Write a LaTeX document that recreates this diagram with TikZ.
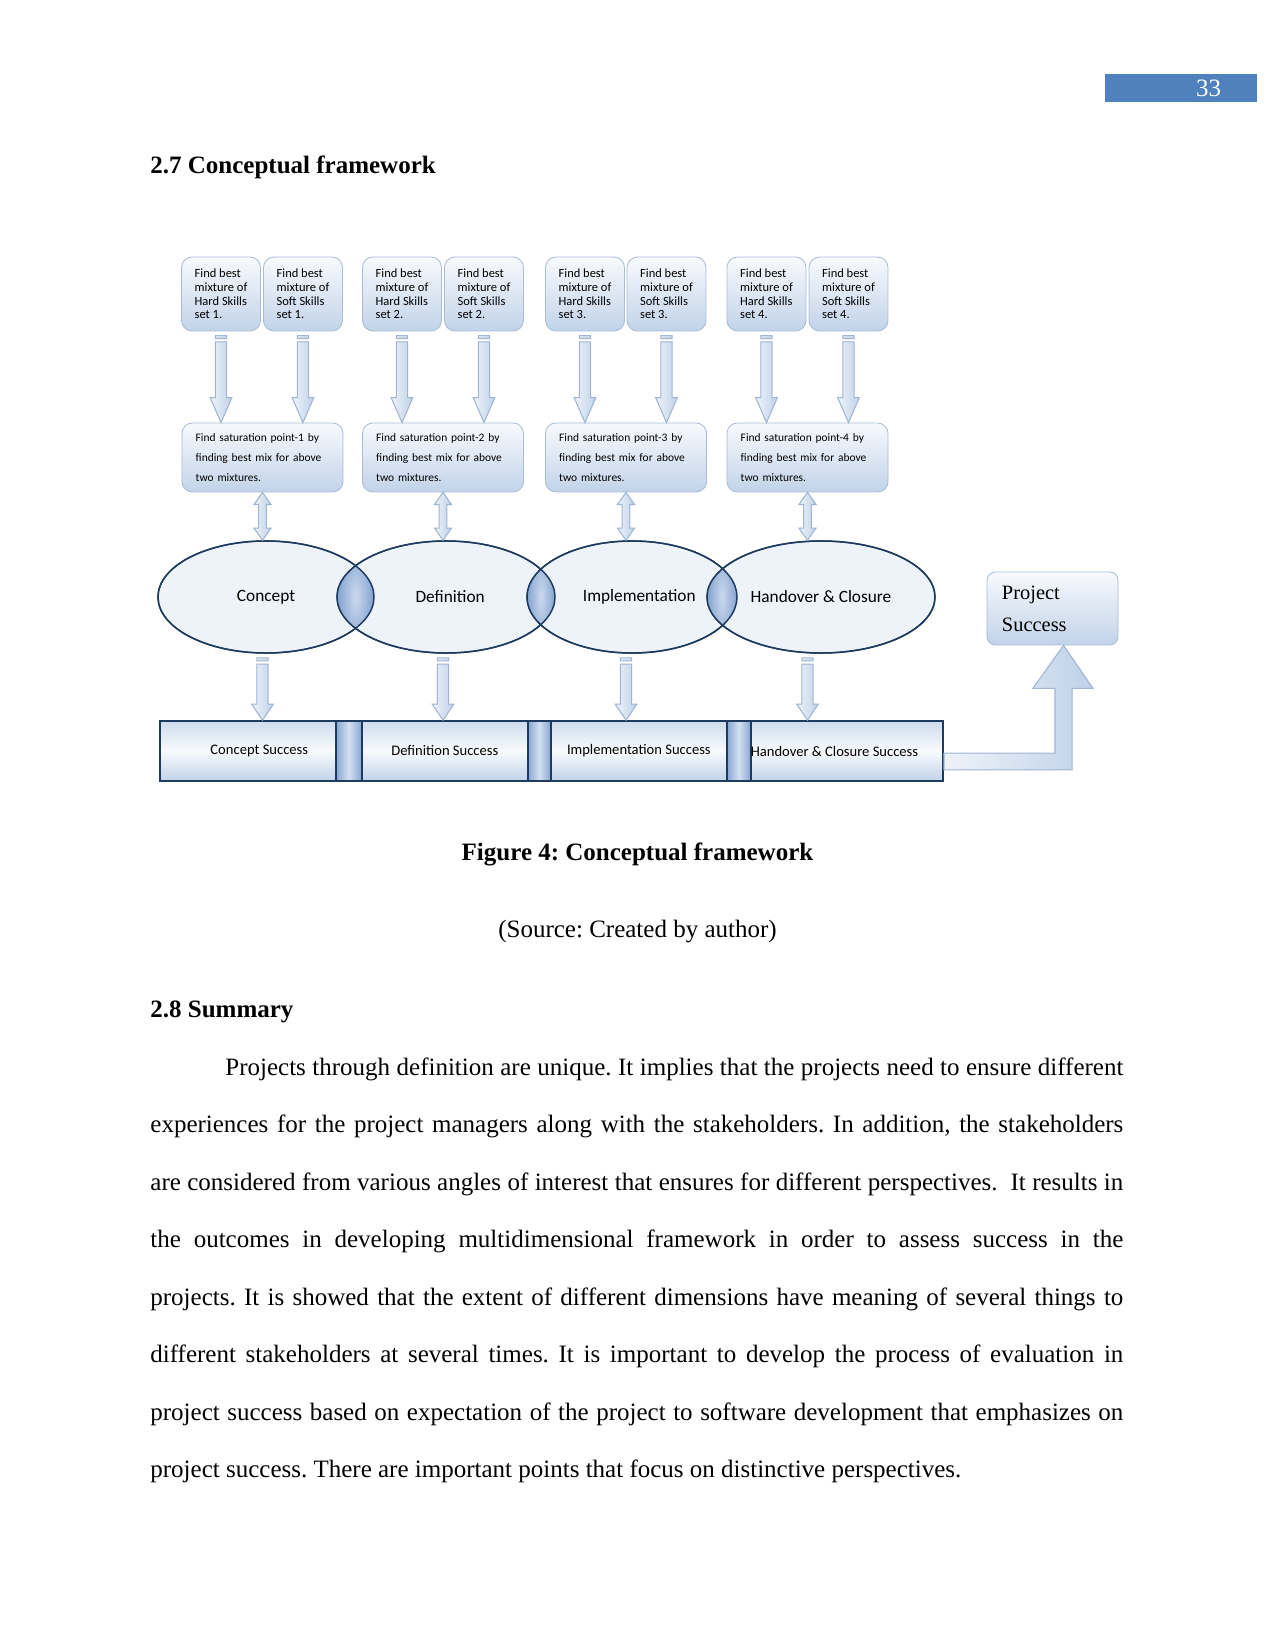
\documentclass[tikz,border=0pt]{standalone}
\usepackage{fontspec}
\setmainfont{Liberation Serif}
\newfontfamily\calibri{Carlito}
\usetikzlibrary{shapes.geometric,calc}
\frenchspacing

\definecolor{boxline}{HTML}{A9BCD6}
\definecolor{boxtop}{HTML}{F8FAFD}
\definecolor{boxbot}{HTML}{C2D3E9}
\definecolor{arrline}{HTML}{9FB5D3}
\definecolor{arrlight}{HTML}{EEF3F9}
\definecolor{arrblue}{HTML}{BFD1E8}
\definecolor{navy}{HTML}{1F3A5F}
\definecolor{phasein}{HTML}{EEF3FA}
\definecolor{phaseout}{HTML}{A3BBDC}
\definecolor{lensin}{HTML}{CBD9EE}
\definecolor{lensout}{HTML}{7F9FCC}
\definecolor{sepblue}{HTML}{86A5D2}
\definecolor{pageblue}{HTML}{4F81BD}

\pgfdeclareradialshading{phaseshade}{\pgfpoint{0bp}{0bp}}{color(0bp)=(phasein); color(32bp)=(phasein); color(47bp)=(phaseout); color(50bp)=(phaseout)}

\tikzset{
  skill/.style={draw=boxline,rounded corners=5pt,top color=boxtop,bottom color=boxbot,minimum width=37.9pt,minimum height=35.5pt,inner sep=0pt,align=left,font=\calibri\fontsize{6}{6.6}\selectfont},
  satbox/.style={draw=boxline,rounded corners=5pt,top color=boxtop,bottom color=boxbot,minimum height=33.1pt,text width=64.1pt,inner xsep=6.6pt,inner ysep=0pt,align=left,font=\calibri\fontsize{5.5}{9.6}\selectfont},
  phase/.style={ellipse,draw=navy,line width=0.7pt,shade,shading=phaseshade,minimum height=53.8pt,inner sep=0pt,font=\calibri\fontsize{8.3}{10}\selectfont},
  succ/.style={draw=navy,line width=0.8pt,top color=boxbot!80,bottom color=boxbot,middle color=boxtop,minimum height=28.8pt,inner sep=0pt,anchor=west,font=\calibri\fontsize{7}{8}\selectfont},
  divider/.style={draw=navy,line width=0.8pt,left color=sepblue,right color=sepblue,middle color=boxbot!70,minimum height=28.8pt,inner sep=0pt,anchor=west},
  goal/.style={draw=boxline,rounded corners=4pt,top color=boxtop,bottom color=boxbot,minimum height=35pt,text width=48.5pt,inner xsep=7.2pt,inner ysep=0pt,align=left,font=\fontsize{9.8}{15.4}\selectfont},
  blockarrow/.style={draw=arrline,line width=0.5pt,left color=arrlight,right color=arrblue},
  lens/.style={inner color=lensin,outer color=lensout},
  pagebox/.style={fill=pageblue,text=white,minimum height=13.4pt,text width=72.5pt,inner sep=0pt,align=right,font=\fontsize{12}{14}\selectfont},
  bodyline/.style={anchor=base west,inner sep=0pt,font=\fontsize{12}{14}\selectfont},
  caption/.style={anchor=base,inner sep=0pt,font=\fontsize{12}{14}\selectfont}
}

% #1 head length, #2 column node, #3 top node, #4 bottom node
\newcommand{\blockdown}[4][12pt]{%
  \path[blockarrow] let \p1=(#2), \p2=(#3), \p3=(#4) in
    (\x1-2.7pt,\y2-2pt) rectangle (\x1+2.7pt,\y2-3.4pt)
    (\x1-2.7pt,\y2-5pt) -- (\x1-2.7pt,\y3+#1) -- (\x1-5.2pt,\y3+#1) -- (\x1,\y3)
      -- (\x1+5.2pt,\y3+#1) -- (\x1+2.7pt,\y3+#1) -- (\x1+2.7pt,\y2-5pt) -- cycle;}
% up and down arrow, #1 column node, #2 top node, #3 bottom node
\newcommand{\blockboth}[3]{%
  \path[blockarrow] let \p1=(#1), \p2=(#2), \p3=(#3) in
    (\x1,\y2) -- (\x1+4.1pt,\y2-5.8pt) -- (\x1+1.9pt,\y2-5.8pt) -- (\x1+1.9pt,\y3+5.8pt)
      -- (\x1+4.1pt,\y3+5.8pt) -- (\x1,\y3) -- (\x1-4.1pt,\y3+5.8pt) -- (\x1-1.9pt,\y3+5.8pt)
      -- (\x1-1.9pt,\y2-5.8pt) -- (\x1-4.1pt,\y2-5.8pt) -- cycle;}

\begin{document}
\begin{tikzpicture}[x=0.48pt,y=-0.48pt]
  \useasboundingbox[fill=white] (0,0) rectangle (1275,1651);

  \node[pagebox] (pagenum) at (1181,88) {33\hspace*{17pt}};
  \node[bodyline] (sec27) at (150,174) {\bfseries 2.7 Conceptual framework};

  % skill sets
  \node[skill] (hard1) at (221,294) {Find best\\mixture of\\Hard Skills\\set 1.};
  \node[skill] (soft1) at (303,294) {Find best\\mixture of\\Soft Skills\\set 1.};
  \node[skill] (hard2) at (402,294) {Find best\\mixture of\\Hard Skills\\set 2.};
  \node[skill] (soft2) at (484,294) {Find best\\mixture of\\Soft Skills\\set 2.};
  \node[skill] (hard3) at (585,294) {Find best\\mixture of\\Hard Skills\\set 3.};
  \node[skill] (soft3) at (666.5,294) {Find best\\mixture of\\Soft Skills\\set 3.};
  \node[skill] (hard4) at (766.5,294) {Find best\\mixture of\\Hard Skills\\set 4.};
  \node[skill] (soft4) at (848.5,294) {Find best\\mixture of\\Soft Skills\\set 4.};

  % saturation points
  \node[satbox] (sat1) at (262.5,457.5) {Find saturation point-1 by\\finding best mix for above\\two mixtures.};
  \node[satbox] (sat2) at (443,457.5) {Find saturation point-2 by\\finding best mix for above\\two mixtures.};
  \node[satbox] (sat3) at (626,457.5) {Find saturation point-3 by\\finding best mix for above\\two mixtures.};
  \node[satbox] (sat4) at (807.5,457.5) {Find saturation point-4 by\\finding best mix for above\\two mixtures.};

  % phases
  \node[phase,minimum width=103.7pt] (concept) at (266,597) {Concept};
  \node[phase,minimum width=104.6pt] (definition) at (446,597) {\hspace*{4pt}Definition};
  \node[phase,minimum width=100.8pt] (implementation) at (632,597) {\hspace*{7pt}Implementation};
  \node[phase,minimum width=109.4pt] (handover) at (821,597) {Handover \& Closure};

  \begin{scope}
    \clip (concept.center) ellipse [x radius=108,y radius=56];
    \clip (definition.center) ellipse [x radius=109,y radius=56];
    \shade[lens] (definition.west |- concept.north) rectangle (concept.east |- concept.south);
  \end{scope}
  \begin{scope}
    \clip (definition.center) ellipse [x radius=109,y radius=56];
    \clip (implementation.center) ellipse [x radius=105,y radius=56];
    \shade[lens] (implementation.west |- concept.north) rectangle (definition.east |- concept.south);
  \end{scope}
  \begin{scope}
    \clip (implementation.center) ellipse [x radius=105,y radius=56];
    \clip (handover.center) ellipse [x radius=114,y radius=56];
    \shade[lens] (handover.west |- concept.north) rectangle (implementation.east |- concept.south);
  \end{scope}
  \draw[navy,line width=0.7pt] (concept.center) ellipse [x radius=108,y radius=56]
    (definition.center) ellipse [x radius=109,y radius=56]
    (implementation.center) ellipse [x radius=105,y radius=56]
    (handover.center) ellipse [x radius=114,y radius=56];

  % success bar
  \node[succ,minimum width=84.5pt] (conceptok) at (159,751) {\hspace*{11pt}Concept Success};
  \node[divider,minimum width=12.5pt] (div1) at (335,751) {};
  \node[succ,minimum width=79.7pt] (definitionok) at (361,751) {Definition Success};
  \node[divider,minimum width=11pt] (div2) at (527,751) {};
  \node[succ,minimum width=84.5pt] (implementationok) at (550,751) {Implementation Success};
  \node[divider,minimum width=11.5pt] (div3) at (726,751) {};
  \node[succ,minimum width=92.2pt] (handoverok) at (750,751) {Handover \& Closure Success\hspace*{12pt}};

  \node[goal,minimum width=62.9pt] (project) at (1052.5,608.5) {Project\\Success};

  % arrows
  \blockdown{hard1}{hard1.south}{sat1.north}
  \blockdown{soft1}{soft1.south}{sat1.north}
  \blockdown{hard2}{hard2.south}{sat2.north}
  \blockdown{soft2}{soft2.south}{sat2.north}
  \blockdown{hard3}{hard3.south}{sat3.north}
  \blockdown{soft3}{soft3.south}{sat3.north}
  \blockdown{hard4}{hard4.south}{sat4.north}
  \blockdown{soft4}{soft4.south}{sat4.north}

  \blockboth{sat1}{sat1.south}{concept.north}
  \blockboth{sat2}{sat2.south}{definition.north}
  \blockboth{sat3}{sat3.south}{implementation.north}
  \blockboth{sat4}{sat4.south}{handover.north}

  \blockdown[7.7pt]{sat1}{concept.south}{conceptok.north}
  \blockdown[7.7pt]{sat2}{definition.south}{definitionok.north}
  \blockdown[7.7pt]{sat3}{implementation.south}{implementationok.north}
  \blockdown[7.7pt]{sat4}{handover.south}{handoverok.north}

  \path[blockarrow] let \p1=(handoverok.east), \p2=(project.south) in
    (\x1,\y1-1pt) -- (\x2+1.2pt,\y1-1pt) -- (\x2+1.2pt,\y2-20.6pt) -- (\x2-9.4pt,\y2-20.6pt)
    -- (\x2+5.3pt,\y2) -- (\x2+19.4pt,\y2-20.6pt) -- (\x2+9.4pt,\y2-20.6pt)
    -- (\x2+9.4pt,\y1-9.1pt) -- (\x1,\y1-9.1pt) -- cycle;

  % text below the figure
  \node[caption] (figcap) at (637.5,860) {\bfseries Figure 4: Conceptual framework};
  \node[caption] (source) at (637.5,937) {(Source: Created by author)};
  \node[bodyline] (sec28) at (150,1017) {\bfseries 2.8 Summary};

  \node[bodyline] (line1) at (225,1075) {\makebox[431pt][s]{Projects through definition are unique. It implies that the projects need to ensure different}};
  \node[bodyline] (line2) at (150,1132.5) {\makebox[467pt][s]{experiences for the project managers along with the stakeholders. In addition, the stakeholders}};
  \node[bodyline] (line3) at (150,1190) {\makebox[467pt][s]{are considered from various angles of interest that ensures for different perspectives. \ It results in}};
  \node[bodyline] (line4) at (150,1247.5) {\makebox[467pt][s]{the outcomes in developing multidimensional framework in order to assess success in the}};
  \node[bodyline] (line5) at (150,1305) {\makebox[467pt][s]{projects. It is showed that the extent of different dimensions have meaning of several things to}};
  \node[bodyline] (line6) at (150,1362.5) {\makebox[467pt][s]{different stakeholders at several times. It is important to develop the process of evaluation in}};
  \node[bodyline] (line7) at (150,1420) {\makebox[467pt][s]{project success based on expectation of the project to software development that emphasizes on}};
  \node[bodyline] (line8) at (150,1477.5) {project success. There are important points that focus on distinctive perspectives.};
\end{tikzpicture}
\end{document}
